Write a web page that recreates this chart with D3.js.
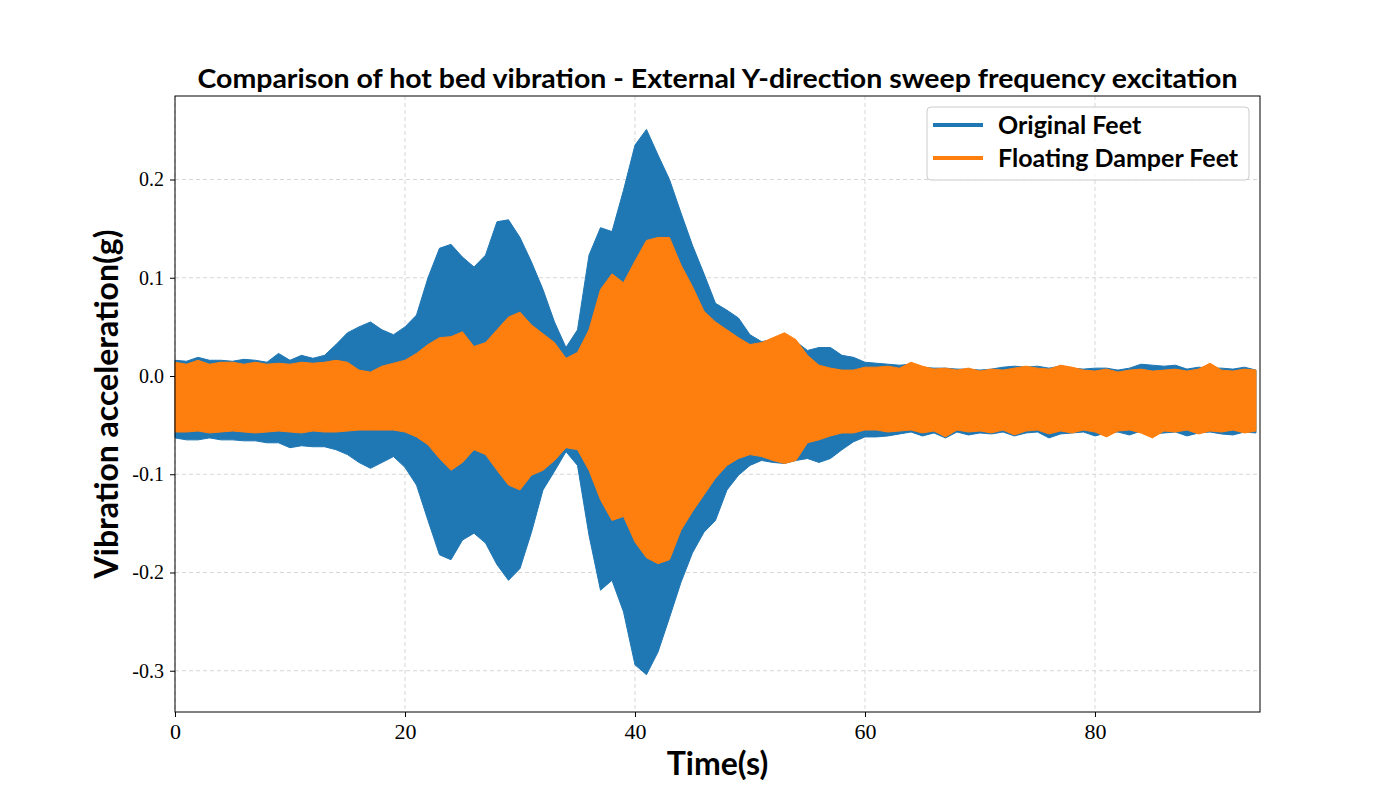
<!DOCTYPE html>
<html>
<head>
<meta charset="utf-8">
<script src="https://cdn.jsdelivr.net/npm/d3@7"></script>
<style>
  body { margin: 0; background: #fff; }
  svg { display: block; }
</style>
</head>
<body>
<div id="chart"></div>
<script>
// envelope of each signal (g)
const seconds = d3.range(95);

const originalTop = [0.016,0.015,0.019,0.016,0.016,0.015,0.017,0.016,0.014,0.023,
  0.016,0.021,0.018,0.021,0.032,0.044,0.050,0.055,0.047,0.042,
  0.050,0.062,0.100,0.130,0.134,0.121,0.111,0.123,0.157,0.159,
  0.141,0.116,0.088,0.055,0.029,0.047,0.123,0.151,0.147,0.189,
  0.235,0.251,0.225,0.200,0.166,0.133,0.104,0.074,0.067,0.059,
  0.042,0.035,0.037,0.041,0.035,0.026,0.029,0.029,0.021,0.019,
  0.014,0.013,0.012,0.011,0.012,0.009,0.008,0.008,0.007,0.007,
  0.006,0.007,0.009,0.010,0.009,0.010,0.008,0.010,0.008,0.007,
  0.008,0.008,0.006,0.008,0.012,0.011,0.010,0.011,0.007,0.009,
  0.008,0.008,0.007,0.009,0.006];

const originalBottom = [-0.063,-0.065,-0.065,-0.063,-0.065,-0.065,-0.066,-0.066,-0.068,-0.068,
  -0.073,-0.071,-0.072,-0.072,-0.075,-0.080,-0.088,-0.094,-0.088,-0.082,
  -0.093,-0.111,-0.147,-0.182,-0.187,-0.167,-0.160,-0.170,-0.192,-0.208,
  -0.196,-0.159,-0.116,-0.097,-0.077,-0.091,-0.162,-0.218,-0.208,-0.240,
  -0.294,-0.304,-0.281,-0.246,-0.210,-0.180,-0.159,-0.147,-0.116,-0.101,
  -0.091,-0.086,-0.088,-0.089,-0.086,-0.084,-0.088,-0.084,-0.075,-0.067,
  -0.062,-0.062,-0.061,-0.059,-0.057,-0.061,-0.058,-0.063,-0.057,-0.060,
  -0.058,-0.059,-0.057,-0.061,-0.058,-0.057,-0.063,-0.059,-0.058,-0.057,
  -0.061,-0.058,-0.057,-0.060,-0.056,-0.059,-0.058,-0.057,-0.061,-0.058,
  -0.057,-0.059,-0.060,-0.057,-0.058];

const damperTop = [0.014,0.012,0.016,0.012,0.014,0.014,0.012,0.014,0.012,0.013,
  0.012,0.014,0.013,0.014,0.016,0.014,0.006,0.004,0.010,0.013,
  0.016,0.023,0.032,0.039,0.040,0.045,0.030,0.034,0.047,0.060,
  0.065,0.052,0.043,0.034,0.018,0.024,0.047,0.088,0.104,0.095,
  0.117,0.138,0.141,0.141,0.113,0.091,0.066,0.055,0.047,0.039,
  0.032,0.034,0.039,0.044,0.037,0.021,0.011,0.008,0.006,0.006,
  0.009,0.009,0.010,0.008,0.014,0.010,0.007,0.008,0.006,0.008,
  0.005,0.007,0.006,0.008,0.010,0.008,0.007,0.011,0.009,0.006,
  0.005,0.007,0.004,0.006,0.007,0.005,0.006,0.007,0.005,0.007,
  0.013,0.006,0.005,0.007,0.006];

const damperBottom = [-0.057,-0.057,-0.056,-0.058,-0.057,-0.056,-0.057,-0.058,-0.057,-0.056,
  -0.057,-0.058,-0.056,-0.057,-0.057,-0.056,-0.055,-0.055,-0.055,-0.055,
  -0.057,-0.062,-0.070,-0.084,-0.096,-0.088,-0.075,-0.080,-0.096,-0.111,
  -0.116,-0.101,-0.096,-0.086,-0.073,-0.075,-0.096,-0.126,-0.147,-0.143,
  -0.169,-0.185,-0.191,-0.187,-0.157,-0.138,-0.121,-0.104,-0.091,-0.084,
  -0.080,-0.082,-0.086,-0.089,-0.086,-0.068,-0.065,-0.061,-0.058,-0.058,
  -0.055,-0.055,-0.057,-0.056,-0.055,-0.058,-0.056,-0.062,-0.055,-0.057,
  -0.056,-0.058,-0.055,-0.060,-0.056,-0.055,-0.059,-0.056,-0.058,-0.055,
  -0.057,-0.062,-0.056,-0.055,-0.058,-0.063,-0.056,-0.057,-0.055,-0.059,
  -0.056,-0.057,-0.055,-0.058,-0.056];

const xTicks = [0, 20, 40, 60, 80];
const yTicks = [0.2, 0.1, 0.0, -0.1, -0.2, -0.3];
const seriesNames = ["Original Feet", "Floating Damper Feet"];
const seriesColors = ["#1f77b4", "#ff7f0e"];

const width = 1400, height = 800;
const margin = { top: 96, right: 140, bottom: 88, left: 175 };

const sansBold = "Lato, 'Open Sans', 'DejaVu Sans', sans-serif";
const serif = "'Liberation Serif', 'DejaVu Serif', serif";

const svg = d3.select("#chart").append("svg")
  .attr("width", width)
  .attr("height", height);

const x = d3.scaleLinear()
  .domain([0, 94.35])
  .range([margin.left, width - margin.right]);

const y = d3.scaleLinear()
  .domain([-0.342, 0.285])
  .range([height - margin.bottom, margin.top]);

// grid
const grid = svg.append("g")
  .attr("stroke", "#cccccc")
  .attr("stroke-width", 0.8)
  .attr("stroke-dasharray", "4,3");

grid.selectAll(".gx").data(xTicks).join("line")
  .attr("x1", d => x(d)).attr("x2", d => x(d))
  .attr("y1", margin.top).attr("y2", height - margin.bottom);

grid.selectAll(".gy").data(yTicks).join("line")
  .attr("x1", margin.left).attr("x2", width - margin.right)
  .attr("y1", d => y(d)).attr("y2", d => y(d));

// signals as filled envelopes, original first then damper on top
const envelopes = [
  seconds.map((t, i) => ({ t, hi: originalTop[i], lo: originalBottom[i] })),
  seconds.map((t, i) => ({ t, hi: damperTop[i], lo: damperBottom[i] }))
];

const area = d3.area()
  .x(d => x(d.t))
  .y0(d => y(d.lo))
  .y1(d => y(d.hi));

svg.append("g").selectAll("path")
  .data(envelopes)
  .join("path")
  .attr("fill", (d, i) => seriesColors[i])
  .attr("stroke", (d, i) => seriesColors[i])
  .attr("stroke-width", 1)
  .attr("d", area);

// axes
const xAxis = svg.append("g")
  .attr("transform", `translate(0,${height - margin.bottom})`)
  .call(d3.axisBottom(x).tickValues(xTicks).tickFormat(d3.format("d")).tickSizeOuter(0).tickSize(5).tickPadding(6));

const yAxis = svg.append("g")
  .attr("transform", `translate(${margin.left},0)`)
  .call(d3.axisLeft(y).tickValues(yTicks).tickFormat(d3.format(".1f")).tickSizeOuter(0).tickSize(5).tickPadding(6));

[xAxis, yAxis].forEach(g => {
  g.select(".domain").remove();
  g.selectAll("text")
    .attr("font-family", serif)
    .attr("fill", "#000");
  g.selectAll(".tick line").attr("stroke", "#000");
});
xAxis.selectAll("text").attr("font-size", 22);
yAxis.selectAll("text").attr("font-size", 20)
  .text(d => d3.format(".1f")(d).replace("−", "-"));

// frame
svg.append("rect")
  .attr("x", margin.left)
  .attr("y", margin.top)
  .attr("width", width - margin.left - margin.right)
  .attr("height", height - margin.top - margin.bottom)
  .attr("fill", "none")
  .attr("stroke", "#000")
  .attr("stroke-width", 1);

// title and labels
svg.append("text")
  .attr("x", (margin.left + width - margin.right) / 2)
  .attr("y", 88)
  .attr("text-anchor", "middle")
  .attr("font-family", sansBold)
  .attr("font-weight", "bold")
  .attr("font-size", 27)
  .attr("textLength", 1040)
  .attr("lengthAdjust", "spacingAndGlyphs")
  .text("Comparison of hot bed vibration - External Y-direction sweep frequency excitation");

svg.append("text")
  .attr("x", (margin.left + width - margin.right) / 2)
  .attr("y", 775)
  .attr("text-anchor", "middle")
  .attr("font-family", sansBold)
  .attr("font-weight", "bold")
  .attr("font-size", 32)
  .text("Time(s)");

svg.append("text")
  .attr("transform", `translate(118,${(margin.top + height - margin.bottom) / 2}) rotate(-90)`)
  .attr("text-anchor", "middle")
  .attr("font-family", sansBold)
  .attr("font-weight", "bold")
  .attr("font-size", 32)
  .text("Vibration acceleration(g)");

// legend
const legend = svg.append("g").attr("transform", "translate(927,107)");
legend.append("rect")
  .attr("width", 322).attr("height", 73).attr("rx", 4)
  .attr("fill", "#fff").attr("fill-opacity", 0.8)
  .attr("stroke", "#cccccc");

const items = legend.selectAll(".item")
  .data(seriesNames)
  .join("g")
  .attr("transform", (d, i) => `translate(0,${18 + i * 33})`);

items.append("line")
  .attr("x1", 6).attr("x2", 56)
  .attr("stroke", (d, i) => seriesColors[i])
  .attr("stroke-width", 4);

items.append("text")
  .attr("x", 71).attr("y", 9)
  .attr("font-family", sansBold)
  .attr("font-weight", "bold")
  .attr("font-size", 25)
  .text(d => d);
</script>
</body>
</html>
